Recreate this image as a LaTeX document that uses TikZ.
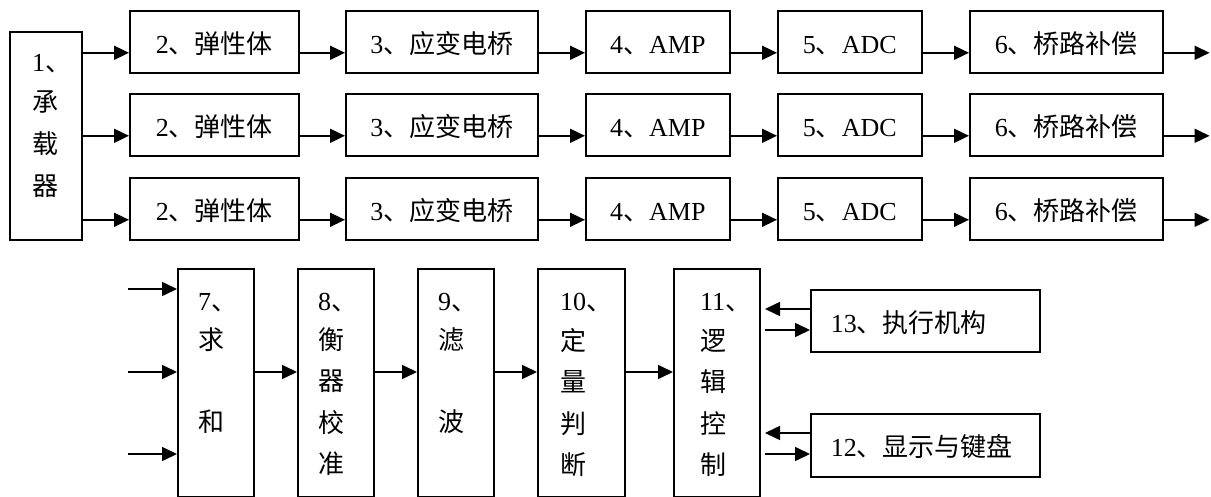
\documentclass[tikz,border=0pt]{standalone}
\usepackage{fontspec}
\setmainfont{Liberation Serif}
\newfontfamily\zhfont{Noto Sans CJK SC}
\newcommand\zh[1]{{\zhfont #1}}
\usetikzlibrary{arrows.meta,calc}
\begin{document}
\begin{tikzpicture}[x=1pt,y=-1pt,
  box/.style={draw, line width=1.6pt, inner sep=0pt, anchor=north west, text height=26pt, text depth=3pt, font=\fontsize{26pt}{32pt}\selectfont},
  tl/.style={anchor=base west, inner sep=0pt, font=\fontsize{26pt}{32pt}\selectfont},
  arr/.style={line width=1.6pt, -{Triangle[length=15pt,width=14pt]}}]
\useasboundingbox (0,0) rectangle (1211,497);

% ---- box 1
\node[box, minimum width=72pt, minimum height=208pt] (b1) at (9,31) {};
\node[tl] (b1t1) at (32,72) {1\zh{、}};
\node[tl] (b1t2) at (32,112) {\zh{承}};
\node[tl] (b1t3) at (32,154) {\zh{载}};
\node[tl] (b1t4) at (32,196) {\zh{器}};

% ---- three channels
\foreach \r/\ty in {1/10,2/93,3/177}{
  \node[box, minimum width=169pt, minimum height=62pt] (b2r\r) at (129,\ty) {2\zh{、弹性体}};
  \node[box, minimum width=192pt, minimum height=62pt] (b3r\r) at (345,\ty) {3\zh{、应变电桥}};
  \node[box, minimum width=144pt, minimum height=62pt] (b4r\r) at (585,\ty) {4\zh{、}AMP};
  \node[box, minimum width=144pt, minimum height=62pt] (b5r\r) at (777,\ty) {5\zh{、}ADC};
  \node[box, minimum width=193pt, minimum height=62pt] (b6r\r) at (969,\ty) {6\zh{、桥路补偿}};
  \coordinate (t\r) at ([yshift=-11pt]b2r\r.west);
  \draw[arr] (b1.east |- t\r) -- (t\r);
  \draw[arr] ([yshift=-11pt]b2r\r.east) -- ([yshift=-11pt]b3r\r.west);
  \draw[arr] ([yshift=-11pt]b3r\r.east) -- ([yshift=-11pt]b4r\r.west);
  \draw[arr] ([yshift=-11pt]b4r\r.east) -- ([yshift=-11pt]b5r\r.west);
  \draw[arr] ([yshift=-11pt]b5r\r.east) -- ([yshift=-11pt]b6r\r.west);
  \coordinate (e\r) at ([xshift=46pt,yshift=-11pt]b6r\r.east);
  \draw[arr] ([yshift=-11pt]b6r\r.east) -- (e\r);
}

% ---- lower chain
\node[box, minimum width=76pt, minimum height=228pt] (b7) at (177,268) {};
\node[box, minimum width=76pt, minimum height=228pt] (b8) at (297,268) {};
\node[box, minimum width=76pt, minimum height=228pt] (b9) at (417,268) {};
\node[box, minimum width=87pt, minimum height=228pt] (b10) at (537,268) {};
\node[box, minimum width=86pt, minimum height=228pt] (b11) at (673,268) {};
\node[box, minimum height=62pt, text width=189pt, align=left, inner xsep=20pt] (b13) at (810,289) {13\zh{、执行机构}};
\node[box, minimum height=63pt, text width=189pt, align=left, inner xsep=20pt] (b12) at (810,413) {12\zh{、显示与键盘}};

\node[tl] (b7t1) at (198,310) {7\zh{、}};
\node[tl] (b7t2) at (198,349) {\zh{求}};
\node[tl] (b7t3) at (198,431) {\zh{和}};

\node[tl] (b8t1) at (318,310) {8\zh{、}};
\node[tl] (b8t2) at (318,349) {\zh{衡}};
\node[tl] (b8t3) at (318,390) {\zh{器}};
\node[tl] (b8t4) at (318,432) {\zh{校}};
\node[tl] (b8t5) at (318,473) {\zh{准}};

\node[tl] (b9t1) at (438,310) {9\zh{、}};
\node[tl] (b9t2) at (438,349) {\zh{滤}};
\node[tl] (b9t3) at (438,431) {\zh{波}};

\node[tl] (b10t1) at (560,310) {10\zh{、}};
\node[tl] (b10t2) at (560,350) {\zh{定}};
\node[tl] (b10t3) at (560,391) {\zh{量}};
\node[tl] (b10t4) at (560,433) {\zh{判}};
\node[tl] (b10t5) at (560,474) {\zh{断}};

\node[tl] (b11t1) at (700,310) {11\zh{、}};
\node[tl] (b11t2) at (700,350) {\zh{逻}};
\node[tl] (b11t3) at (700,391) {\zh{辑}};
\node[tl] (b11t4) at (700,433) {\zh{控}};
\node[tl] (b11t5) at (700,474) {\zh{制}};

% inputs to sum
\coordinate (i1) at (128,289);
\coordinate (i2) at (128,372);
\coordinate (i3) at (128,454);
\draw[arr] (i1) -- (b7.west |- i1);
\draw[arr] (i2) -- (b7.west |- i2);
\draw[arr] (i3) -- (b7.west |- i3);

% main chain arrows
\coordinate (m) at (0,372);
\draw[arr] (b7.east |- m) -- (b8.west |- m);
\draw[arr] (b8.east |- m) -- (b9.west |- m);
\draw[arr] (b9.east |- m) -- (b10.west |- m);
\draw[arr] (b10.east |- m) -- (b11.west |- m);

% logic control <-> actuator / display
\coordinate (a13l) at (765,309);
\coordinate (a13r) at (765,330);
\coordinate (a12l) at (765,433);
\coordinate (a12r) at (765,454);
\draw[arr] (b13.west |- a13l) -- (a13l);
\draw[arr] (a13r) -- (b13.west |- a13r);
\draw[arr] (b12.west |- a12l) -- (a12l);
\draw[arr] (a12r) -- (b12.west |- a12r);
\end{tikzpicture}
\end{document}
